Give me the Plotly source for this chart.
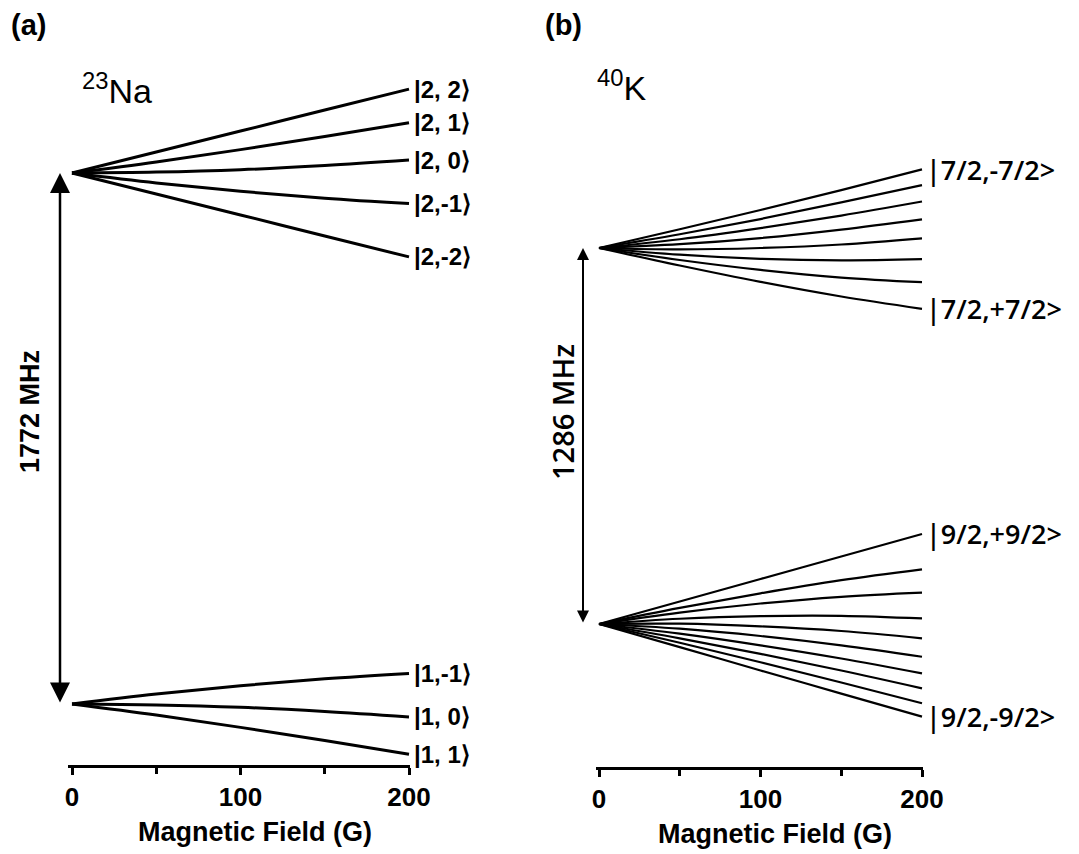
import plotly.graph_objects as go

# ---------------- data ----------------
field_G = [0, 50, 100, 150, 200]
field_ticks = [0, 100, 200]
field_minor = [50, 150]

# 23Na energies (MHz); F=1 zero-field level at 0, F=2 at +1772
na_gap = 1772
na_upper_labels = ["|2, 2⟩", "|2, 1⟩", "|2, 0⟩", "|2,-1⟩", "|2,-2⟩"]
na_upper = [
    [1772, 1842, 1912, 1982, 2052],
    [1772, 1809, 1850, 1894, 1940],
    [1772, 1775, 1783, 1797, 1815],
    [1772, 1739, 1711, 1688, 1670],
    [1772, 1702, 1632, 1562, 1492],
]
na_lower_labels = ["|1,-1⟩", "|1, 0⟩", "|1, 1⟩"]
na_lower = [
    [0, 33, 61, 84, 102],
    [0, -3, -11, -25, -43],
    [0, -37, -78, -122, -168],
]

# 40K energies (MHz); F=9/2 zero-field level at 0, F=7/2 at +1286
k_gap = 1286
k_upper = [
    [1286, 1350, 1416, 1484, 1555],
    [1286, 1333, 1385, 1442, 1501],
    [1286, 1316, 1354, 1397, 1445],
    [1286, 1299, 1320, 1349, 1384],
    [1286, 1281, 1286, 1298, 1319],
    [1286, 1263, 1249, 1244, 1248],
    [1286, 1245, 1211, 1185, 1169],
    [1286, 1226, 1170, 1120, 1078],
]
k_lower = [
    [0, 77, 154, 231, 308],
    [0, 55, 105, 150, 187],
    [0, 39, 70, 93, 107],
    [0, 18, 27, 28, 19],
    [0, 1, -8, -24, -49],
    [0, -16, -41, -73, -112],
    [0, -33, -73, -118, -169],
    [0, -49, -102, -159, -220],
    [0, -64, -131, -200, -271],
    [0, -79, -159, -238, -317],
]
k_upper_labels = {0: "|7/2,-7/2>", 7: "|7/2,+7/2>"}
k_lower_labels = {0: "|9/2,+9/2>", 9: "|9/2,-9/2>"}

# ---------------- layout helpers ----------------
W, H = 1079, 854
OFF = 8  # the page body margin shifts the figure by this many pixels
def px(p):
    return (p - OFF) / W
def py(p):
    return 1 - (p - OFF) / H

HELV = "Liberation Sans, Arial, Helvetica, sans-serif"
CAL = "Open Sans, Noto Sans, sans-serif"

fig = go.Figure()

for series in na_upper + na_lower:
    fig.add_trace(go.Scatter(x=field_G, y=series, mode="lines",
                             line=dict(color="black", width=3, shape="spline"),
                             xaxis="x", yaxis="y", showlegend=False, hoverinfo="skip"))
for series in k_upper + k_lower:
    fig.add_trace(go.Scatter(x=field_G, y=series, mode="lines",
                             line=dict(color="black", width=2.2, shape="spline"),
                             xaxis="x2", yaxis="y2", showlegend=False, hoverinfo="skip"))

# pixel scales of the two panels (px per MHz)
na_s = 531 / na_gap
k_s = 376 / k_gap
na_zero_px, k_zero_px = 704, 624

def xax(domain_px, zero_px, g_px, anchor):
    lo = (domain_px[0] - zero_px) / g_px
    hi = (domain_px[1] - zero_px) / g_px
    return dict(domain=[px(domain_px[0]), px(domain_px[1])], range=[lo, hi],
                anchor=anchor, showline=True, linecolor="black", linewidth=3,
                ticks="outside", ticklen=7, tickwidth=2.5, tickcolor="black",
                tickmode="array", tickvals=field_ticks,
                minor=dict(tickmode="array", tickvals=field_minor, ticks="outside",
                           ticklen=6, tickwidth=2.5, tickcolor="black"),
                tickfont=dict(family=HELV, size=26, color="black", weight="bold"),
                showgrid=False, zeroline=False, fixedrange=True, automargin=False)

fig.update_layout(
    width=W, height=H, margin=dict(l=0, r=0, t=0, b=0),
    paper_bgcolor="white", plot_bgcolor="rgba(0,0,0,0)",
    xaxis=xax((68, 410), 72, 337 / 200, "y"),
    xaxis2=xax((596, 923), 599, 323 / 200, "y2"),
    yaxis=dict(domain=[py(765), py(40)],
               range=[(na_zero_px - 765) / na_s, (na_zero_px - 40) / na_s],
               visible=False, fixedrange=True),
    yaxis2=dict(domain=[py(767), py(40)],
                range=[(k_zero_px - 767) / k_s, (k_zero_px - 40) / k_s],
                visible=False, fixedrange=True),
)

ann = []
# state labels, Na
for lab, s in zip(na_upper_labels + na_lower_labels, na_upper + na_lower):
    ann.append(dict(x=field_G[-1], y=s[-1], xref="x", yref="y", text=lab,
                    showarrow=False, xanchor="left", yanchor="middle", xshift=3,
                    font=dict(family=HELV, size=24, color="black", weight="bold")))
# state labels, K
for group, labels in ((k_upper, k_upper_labels), (k_lower, k_lower_labels)):
    for i, lab in labels.items():
        ann.append(dict(x=field_G[-1], y=group[i][-1], xref="x2", yref="y2", text=lab,
                        showarrow=False, xanchor="left", yanchor="middle", xshift=2,
                        font=dict(family=CAL, size=27, color="black", weight=600)))

# hyperfine splitting arrows
ann.append(dict(x=px(60), y=na_gap, xref="paper", yref="y", ax=0, ay=0,
                axref="pixel", ayref="y", text="", showarrow=True,
                arrowhead=2, startarrowhead=2, arrowside="end+start",
                arrowsize=1.6, startarrowsize=1.6, arrowwidth=2.5, arrowcolor="black",
                standoff=0, startstandoff=0))
ann.append(dict(x=px(583), y=k_gap, xref="paper", yref="y2", ax=0, ay=0,
                axref="pixel", ayref="y2", text="", showarrow=True,
                arrowhead=2, startarrowhead=2, arrowside="end+start",
                arrowsize=1.2, startarrowsize=1.2, arrowwidth=2, arrowcolor="black",
                standoff=0, startstandoff=0))

def note(x, y, text, font, **kw):
    d = dict(x=px(x), y=py(y), xref="paper", yref="paper", text=text, showarrow=False,
             xanchor="center", yanchor="middle", font=font)
    d.update(kw)
    ann.append(d)

note(30, 412, f"{na_gap} MHz", dict(family=HELV, size=27, color="black", weight="bold"),
     textangle=-90)
note(562, 412, f"{k_gap} MHz", dict(family=CAL, size=29, color="black", weight=600),
     textangle=-90)

# panel letters and element names
note(28, 25, "(a)", dict(family=HELV, size=29, color="black", weight="bold"))
note(563, 25, "(b)", dict(family=HELV, size=29, color="black", weight="bold"))
note(117, 88, "<sup>23</sup>Na", dict(family=HELV, size=34, color="black"))
note(621, 86, "<sup>40</sup>K", dict(family=HELV, size=34, color="black"))

# axis titles
note(255, 832, "Magnetic Field (G)", dict(family=HELV, size=27, color="black", weight="bold"))
note(775, 834, "Magnetic Field (G)", dict(family=HELV, size=27, color="black", weight="bold"))

fig.update_layout(annotations=ann)
fig.write_html("out.html")
